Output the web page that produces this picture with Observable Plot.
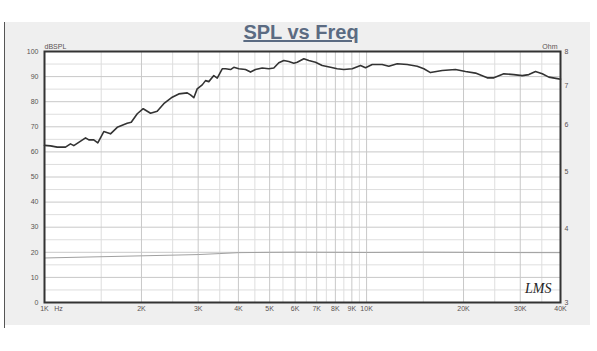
<!DOCTYPE html>
<html>
<head>
<meta charset="utf-8">
<script src="https://cdn.jsdelivr.net/npm/d3@7"></script>
<script src="https://cdn.jsdelivr.net/npm/@observablehq/plot@0.6"></script>
<style>
  html, body { margin: 0; padding: 0; background: #ffffff; }
  #chart svg { display: block; }
</style>
</head>
<body>
<div id="chart"></div>
<script>
// ---- Data ----
const splFreq = [1000, 1044, 1095, 1162, 1204, 1233, 1341, 1373, 1422, 1464, 1528, 1603, 1682, 1806, 1859, 1941, 2025, 2134, 2238, 2346,
  2492, 2612, 2774, 2840, 2908, 2979, 3088, 3162, 3237, 3355, 3438, 3563, 3648, 3781, 3871, 4012, 4208, 4361, 4519, 4742, 4971, 5151, 5340, 5534, 5735, 5943,
  6090, 6385, 6616, 6940, 7281, 7727, 8103, 8498, 9024, 9575, 9924, 10410, 11180, 11720, 12450, 13370, 14360, 15060, 15790,
  17170, 18880, 20280, 21790, 23690, 24830, 26680, 28650, 30430, 31900, 33450, 35110, 36800, 39530, 40000];
const splDb = [62.6, 62.4, 61.9, 61.9, 63.2, 62.5, 65.6, 64.8, 64.8, 63.6, 68.1, 67.2, 69.8, 71.4, 71.8, 75.2, 77.2, 75.4, 76.2, 79.2,
  81.8, 83.1, 83.5, 82.7, 81.6, 85.1, 86.7, 88.4, 88.0, 90.4, 89.4, 93.1, 93.1, 92.8, 93.7, 93.1, 92.8, 91.8, 92.8, 93.4, 93.1, 93.4, 95.5, 96.4, 96.0, 95.3,
  95.7, 97.1, 96.4, 95.7, 94.4, 93.7, 93.1, 92.8, 93.1, 94.4, 93.5, 94.8, 94.8, 94.1, 95.1, 94.8, 94.1, 93.1, 91.6,
  92.4, 92.8, 92.0, 91.4, 89.5, 89.5, 91.1, 90.8, 90.4, 90.8, 92.0, 91.1, 89.8, 89.1, 89.0];

const impFreq = [1000, 2000, 3000, 3500, 4000, 5000, 6000, 8500, 10000, 15000, 20000, 30000, 40000];
const impOhm  = [3.57, 3.60, 3.618, 3.632, 3.645, 3.65, 3.652, 3.65, 3.648, 3.652, 3.65, 3.646, 3.645];

const xMajorTicks = [1000, 2000, 3000, 4000, 5000, 6000, 7000, 8000, 9000, 10000, 20000, 30000, 40000];
const xMinorTicks = [1500, 2500, 3500, 4500, 5500, 6500, 7500, 8500, 9500, 15000, 25000, 35000];
const xTickLabels = ["1K", "2K", "3K", "4K", "5K", "6K", "7K", "8K", "9K", "10K", "20K", "30K", "40K"];
const yMajorTicks = [0, 10, 20, 30, 40, 50, 60, 70, 80, 90, 100];
const yMinorTicks = [5, 15, 25, 35, 45, 55, 65, 75, 85, 95];
const ohmTicks = [3, 4, 5, 6, 7, 8];

// ---- Helpers: right (Ohm, log 3..8) axis expressed on the dB scale ----
const ohmLo = 3, ohmHi = 8;
const ohmToDb = o => 100 * (Math.log(o) - Math.log(ohmLo)) / (Math.log(ohmHi) - Math.log(ohmLo));

const spl = splFreq.map((f, i) => ({f, v: splDb[i]}));
const imp = impFreq.map((f, i) => ({f, v: ohmToDb(impOhm[i])}));
const xLabels = xMajorTicks.map((f, i) => ({f, label: xTickLabels[i]}));
const ohmLabels = ohmTicks.map(o => ({v: ohmToDb(o), label: String(o)}));

const W = 597, H = 351;
const labelColor = "#5a5252";

const chart = Plot.plot({
  width: W,
  height: H,
  marginLeft: 44,
  marginRight: 37,
  marginTop: 51,
  marginBottom: 49,
  style: {fontFamily: "'Liberation Sans', Arial, sans-serif", background: "transparent"},
  x: {type: "log", domain: [1000, 40000], axis: null},
  y: {domain: [0, 100], axis: null},
  marks: [
    Plot.frame({fill: "white", stroke: "none"}),
    Plot.ruleX(xMinorTicks, {stroke: "#dedede", strokeWidth: 1}),
    Plot.ruleY(yMinorTicks, {stroke: "#dedede", strokeWidth: 1}),
    Plot.ruleX(xMajorTicks, {stroke: "#c8c8c8", strokeWidth: 1}),
    Plot.ruleY(yMajorTicks, {stroke: "#c8c8c8", strokeWidth: 1}),
    Plot.line(imp, {x: "f", y: "v", stroke: "#a0a0a0", strokeWidth: 1}),
    Plot.line(spl, {x: "f", y: "v", stroke: "#333", strokeWidth: 1.6}),
    Plot.frame({stroke: "#333", strokeWidth: 2}),
    // left dB axis labels
    Plot.text(yMajorTicks, {y: d => d, frameAnchor: "left", dx: -6, textAnchor: "end", fontSize: 7, fill: labelColor, text: d => String(d)}),
    // right Ohm axis labels
    Plot.text(ohmLabels, {y: "v", frameAnchor: "right", dx: 4, textAnchor: "start", fontSize: 7, fill: labelColor, text: "label"}),
    // x labels
    Plot.text(xLabels, {x: "f", frameAnchor: "bottom", dy: 8, fontSize: 7, fill: labelColor, text: "label"}),
    Plot.text(["Hz"], {x: 1000, frameAnchor: "bottom", dx: 14, dy: 8, fontSize: 7, fill: labelColor, text: d => d}),
    Plot.text(["dBSPL"], {frameAnchor: "top-left", dx: 0, dy: -7, textAnchor: "start", fontSize: 7, fill: labelColor, text: d => d}),
    Plot.text(["Ohm"], {frameAnchor: "top-right", dx: -3, dy: -7, textAnchor: "end", fontSize: 7, fill: labelColor, text: d => d}),
    Plot.text(["LMS"], {frameAnchor: "bottom-right", dx: -9, dy: -10, textAnchor: "end", fontSize: 14, fontStyle: "italic",
      fontFamily: "'Liberation Serif', serif", fill: "#222", text: d => d})
  ]
});

// Gray panel behind the chart, and the title
const svg = d3.select(chart);
svg.insert("rect", ":first-child")
  .attr("x", 5).attr("y", 22).attr("width", 585).attr("height", 303).attr("fill", "#efefef");
svg.insert("line", ":first-child")
  .attr("x1", 4.5).attr("x2", 4.5).attr("y1", 22).attr("y2", 328).attr("stroke", "#555").attr("stroke-width", 1);
svg.append("text")
  .attr("x", 301).attr("y", 39)
  .attr("text-anchor", "middle")
  .attr("font-family", "'Liberation Sans', Arial, sans-serif")
  .attr("font-weight", "bold")
  .attr("font-size", 20)
  .attr("fill", "#5b6b82")
  .attr("text-decoration", "underline")
  .text("SPL vs Freq");

document.getElementById("chart").appendChild(chart);
</script>
</body>
</html>
